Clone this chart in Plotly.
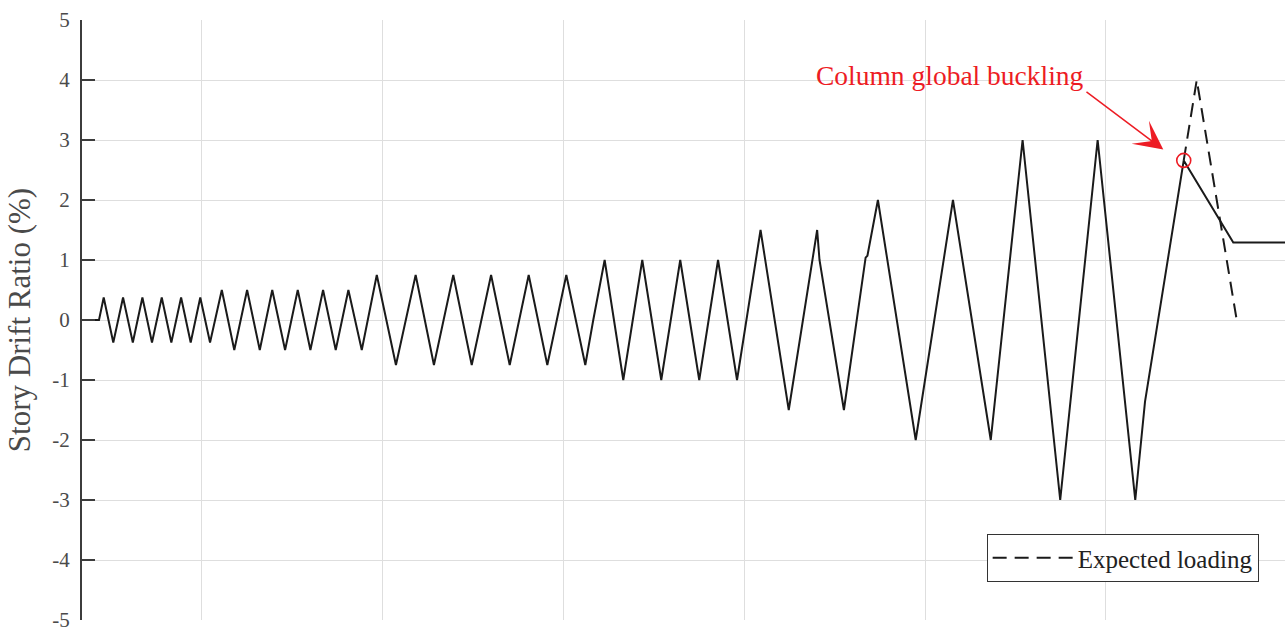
import plotly.graph_objects as go

# Applied story drift history (step, drift %)
step = [338, 432,
        458, 511, 565, 619, 672, 725, 779, 832, 886, 939, 992, 1046,
        1111, 1180, 1251, 1321, 1390, 1461, 1531, 1601, 1671, 1741, 1811, 1885,
        1968, 2074, 2183, 2284, 2391, 2493, 2600, 2703, 2808, 2911, 3016, 3121, 3165,
        3228, 3331, 3436, 3541, 3646, 3751, 3855, 3960,
        4090, 4246, 4403, 4416, 4551, 4671, 4681,
        4739, 4948, 5154, 5363,
        5539, 5747, 5954, 6162, 6216, 6430, 6704, 6990]
drift = [0, 0,
         0.375, -0.375, 0.375, -0.375, 0.375, -0.375, 0.375, -0.375, 0.375, -0.375, 0.375, -0.375,
         0.5, -0.5, 0.5, -0.5, 0.5, -0.5, 0.5, -0.5, 0.5, -0.5, 0.5, -0.5,
         0.75, -0.75, 0.75, -0.75, 0.75, -0.75, 0.75, -0.75, 0.75, -0.75, 0.75, -0.75, 0.0,
         1.0, -1.0, 1.0, -1.0, 1.0, -1.0, 1.0, -1.0,
         1.5, -1.5, 1.5, 1.0, -1.5, 1.04, 1.07,
         2.0, -2.0, 2.0, -2.0,
         3.0, -3.0, 3.0, -3.0, -1.36, 2.66, 1.29, 1.29]

# Planned continuation of the protocol after buckling
expected_step = [6430, 6502, 6723]
expected_drift = [2.66, 4.0, 0.0]

# Buckling point
buckle_step = [6430]
buckle_drift = [2.66]

y_ticks = [-5, -4, -3, -2, -1, 0, 1, 2, 3, 4, 5]
y_tick_text = ["-5", "-4", "-3", "-2", "-1", "0", "1", "2", "3", "4", "5"]
x_grid = [1000, 2000, 3000, 4000, 5000, 6000]

SERIF = "Liberation Serif"
RED = "#ed1c24"
AXIS = "#3c3c3c"
GRID = "#dedede"

fig = go.Figure()

fig.add_trace(go.Scatter(
    x=expected_step, y=expected_drift, mode="lines",
    line=dict(color="#1a1a1a", width=2, dash="14px,8px"),
    name="Expected loading", showlegend=True,
))
fig.add_trace(go.Scatter(
    x=step, y=drift, mode="lines",
    line=dict(color="#1a1a1a", width=2),
    showlegend=False,
))
fig.add_trace(go.Scatter(
    x=buckle_step, y=buckle_drift, mode="markers",
    marker=dict(symbol="circle-open", size=14, color=RED, line=dict(width=1.6, color=RED)),
    showlegend=False,
))

# label text
fig.add_annotation(
    x=5137, y=4.08, xref="x", yref="y",
    text="Column global buckling", showarrow=False,
    font=dict(family=SERIF, size=27.5, color=RED),
)
# arrow toward the buckling point
fig.add_annotation(
    x=6317, y=2.84, ax=5884, ay=3.82, xref="x", yref="y", axref="x", ayref="y",
    text="", showarrow=True, arrowhead=3, arrowsize=3.2, arrowwidth=1.5,
    arrowcolor=RED, standoff=0,
)

fig.update_layout(
    width=1285, height=632,
    margin=dict(l=82, r=0, t=20, b=9),
    paper_bgcolor="white", plot_bgcolor="white",
    font=dict(family=SERIF, color=AXIS),
    xaxis=dict(
        range=[338, 6990], tickvals=x_grid, showticklabels=False,
        showgrid=True, gridcolor=GRID, gridwidth=1,
        showline=False, zeroline=False, ticks="",
    ),
    yaxis=dict(
        range=[-5, 5], tickvals=y_ticks, ticktext=y_tick_text,
        showgrid=True, gridcolor=GRID, gridwidth=1, zeroline=False,
        showline=True, linecolor=AXIS, linewidth=2,
        ticks="inside", ticklen=13, tickwidth=2, tickcolor=AXIS,
        tickfont=dict(family=SERIF, size=21, color="#4a4a4a"),
        ticklabelstandoff=6, ticklabeloverflow="allow",
        title=dict(text="Story Drift Ratio (%)", standoff=12,
                   font=dict(family=SERIF, size=31, color="#4a4a4a")),
    ),
    legend=dict(
        x=0.752, y=0.1033, xanchor="left", yanchor="middle",
        bgcolor="white", bordercolor="#333333", borderwidth=1,
        font=dict(family=SERIF, size=25, color="#222222"),
        itemwidth=80, tracegroupgap=0,
    ),
)

fig.write_html("out.html")
